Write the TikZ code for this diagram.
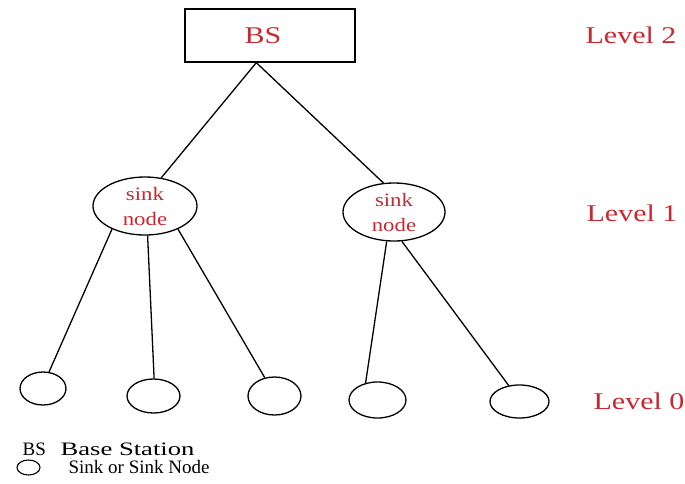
\documentclass[tikz,border=0pt]{standalone}
\usepackage{fontspec}
\setmainfont{Liberation Serif}
\newfontfamily\lblfont{Liberation Serif}[FakeStretch=1.25]
\newfontfamily\sinkfont{Liberation Serif}[FakeStretch=1.2]
\newfontfamily\lgwide{Liberation Serif}[FakeStretch=1.4]
\usetikzlibrary{shapes.geometric,calc}
\definecolor{lblred}{RGB}{200,40,50}
\begin{document}
\begin{tikzpicture}[x=1pt,y=-1pt,line width=1.3pt,
  bsbox/.style={draw,minimum width=170pt,minimum height=53pt,inner sep=0pt},
  redtext/.style={font=\lblfont\fontsize{24}{28}\selectfont,text=lblred,inner sep=0pt},
  sinknode/.style={draw,ellipse,inner sep=0pt,align=center,
    font=\sinkfont\fontsize{19}{25}\selectfont,text=lblred},
  leaf/.style={draw,ellipse,inner sep=0pt},
  legendtext/.style={font=\fontsize{19}{22}\selectfont,anchor=base west,inner sep=0pt}]
\useasboundingbox (0,0) rectangle (685,483);

% base station
\node[bsbox] (bs) at (270,35.5) {};
\node[redtext] (bstext) at ($(bs.center)+(-7,0)$) {BS};

% sink nodes
\node[sinknode,minimum width=104pt,minimum height=58pt] (s1) at (145,206) {sink\\node};
\node[sinknode,minimum width=102pt,minimum height=58pt] (s2) at (394,212) {sink\\node};

% sensor nodes
\node[leaf,minimum width=46pt,minimum height=33pt] (c1) at (43,388.5) {};
\node[leaf,minimum width=53pt,minimum height=34pt] (c2) at (153.5,396) {};
\node[leaf,minimum width=53pt,minimum height=38pt] (c3) at (274.5,396) {};
\node[leaf,minimum width=57pt,minimum height=36pt] (c4) at (377.5,400) {};
\node[leaf,minimum width=59pt,minimum height=33pt] (c5) at (519.5,401.5) {};

% links
\coordinate (apex) at ($(bs.south west)!0.42!(bs.south east)$);
\draw (apex) -- (s1.60);
\draw (apex) -- (s2.110);
\draw (s1.215) -- (c1.70);
\draw (s1.275) -- (c2.88);
\draw (s1.325) -- (c3.118);
\draw (s2.256) -- (c4.125);
\draw (s2.285) -- (c5.124);

% levels
\node[redtext] (l2) at (631,35) {Level 2};
\node[redtext] (l1) at (632,213) {Level 1};
\node[redtext] (l0) at (639,401) {Level 0};

% legend
\node[legendtext] (lg1) at (22,455) {BS};
\node[legendtext,font=\lgwide\fontsize{19}{22}\selectfont] (lg1b) at (60,455) {Base Station};
\node[leaf,line width=1.1pt,minimum width=23pt,minimum height=15pt] (lgc) at (28.5,467.5) {};
\node[legendtext] (lg2) at (68,473) {Sink or Sink Node};
\end{tikzpicture}
\end{document}
